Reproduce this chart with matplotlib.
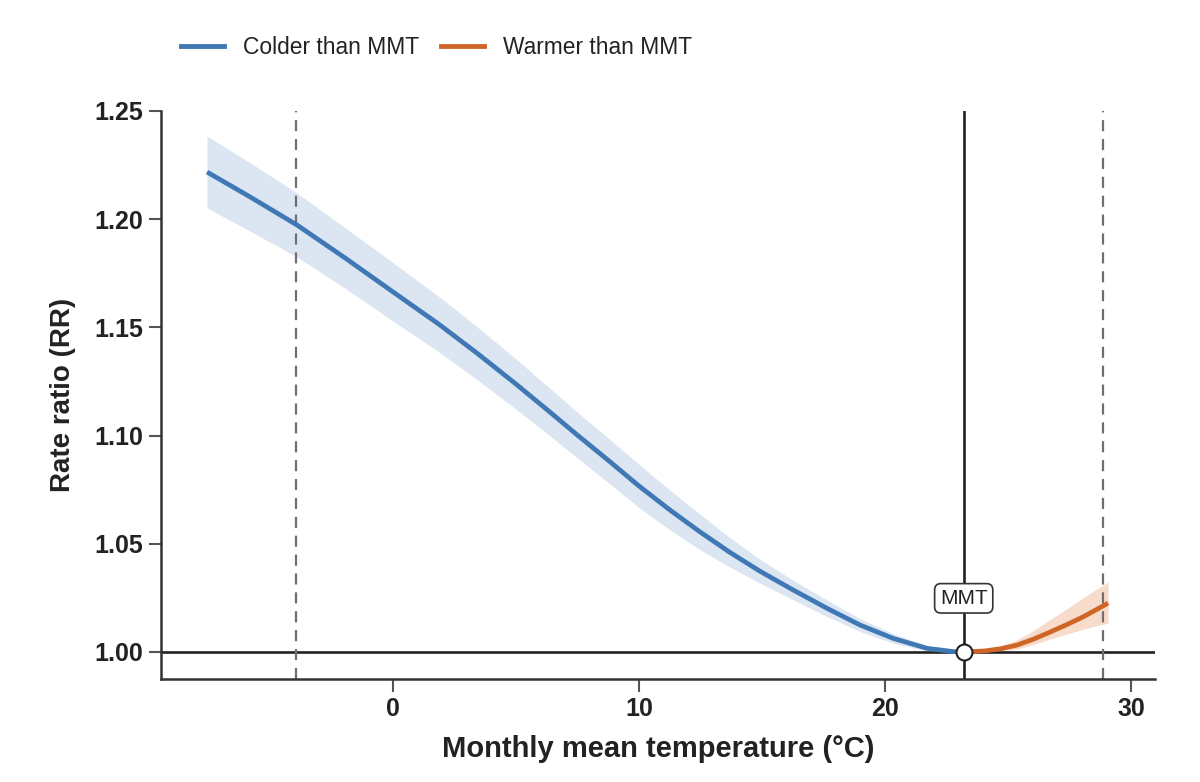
import matplotlib
matplotlib.use("Agg")
import matplotlib.pyplot as plt
from matplotlib.lines import Line2D

plt.rcParams['font.family'] = ['Liberation Sans', 'DejaVu Sans']

# ---- data ----
cold_temp = [-7.56, -5.81, -3.90, -1.95, 0.00, 1.91, 3.46, 5.00, 6.26, 7.52, 8.78,
             10.00, 11.26, 12.48, 13.70, 14.92, 16.26, 17.64, 18.98, 20.33, 21.71,
             22.76, 23.20]
cold_rr = [1.2218, 1.2103, 1.1973, 1.1821, 1.1664, 1.1511, 1.1377, 1.1238, 1.1120,
           1.1000, 1.0883, 1.0767, 1.0656, 1.0555, 1.0460, 1.0373, 1.0287, 1.0202,
           1.0125, 1.0063, 1.0017, 1.0002, 1.0000]
cold_lo = [1.2052, 1.1945, 1.1825, 1.1681, 1.1529, 1.1383, 1.1255, 1.1122, 1.1010,
           1.0894, 1.0780, 1.0667, 1.0564, 1.0473, 1.0392, 1.0318, 1.0242, 1.0164,
           1.0095, 1.0041, 1.0005, 1.0000, 1.0000]
cold_hi = [1.2384, 1.2261, 1.2121, 1.1961, 1.1799, 1.1639, 1.1499, 1.1354, 1.1230,
           1.1106, 1.0986, 1.0867, 1.0748, 1.0637, 1.0528, 1.0428, 1.0332, 1.0240,
           1.0155, 1.0085, 1.0029, 1.0005, 1.0000]

warm_temp = [23.20, 24.07, 24.70, 25.37, 26.05, 26.71, 27.40, 28.05, 28.55, 29.07]
warm_rr = [1.0000, 1.0005, 1.0015, 1.0032, 1.0060, 1.0092, 1.0127, 1.0162, 1.0193, 1.0226]
warm_lo = [1.0000, 1.0002, 1.0007, 1.0013, 1.0035, 1.0060, 1.0083, 1.0105, 1.0120, 1.0134]
warm_hi = [1.0000, 1.0010, 1.0028, 1.0056, 1.0100, 1.0150, 1.0200, 1.0250, 1.0287, 1.0323]

mmt = 23.2
pct_low = -3.95
pct_high = 28.85

x_ticks = [0, 10, 20, 30]
y_ticks = [1.00, 1.05, 1.10, 1.15, 1.20, 1.25]
y_tick_labels = ['1.00', '1.05', '1.10', '1.15', '1.20', '1.25']
series_names = ['Colder than MMT', 'Warmer than MMT']

blue = '#3f78b5'
blue_band = '#dce6f2'
orange = '#cf6628'
orange_band = '#f7dccb'
dark = '#222222'

fig = plt.figure(figsize=(12, 7.82), dpi=100)
ax = fig.add_axes([161/1200, 1-679/782, (1155-161)/1200, (679-111)/782])

ax.fill_between(cold_temp, cold_lo, cold_hi, color=blue_band, lw=0, zorder=1)
ax.fill_between(warm_temp, warm_lo, warm_hi, color=orange_band, lw=0, zorder=1)

ax.axhline(1.0, color=dark, lw=1.9, zorder=2)
ax.axvline(mmt, color=dark, lw=1.9, zorder=2)
for v in (pct_low, pct_high):
    ax.axvline(v, color='#6f6f6f', lw=1.6, ls=(0, (5, 3.5)), zorder=2)

ax.plot(cold_temp, cold_rr, color=blue, lw=3.4, solid_capstyle='butt',
        solid_joinstyle='round', zorder=3)
ax.plot(warm_temp, warm_rr, color=orange, lw=3.4, solid_capstyle='butt',
        solid_joinstyle='round', zorder=3)

ax.plot([mmt], [1.0], 'o', ms=11.5, mfc='white', mec=dark, mew=1.5, zorder=5)
ax.text(mmt, 1.0248, 'MMT', ha='center', va='center', fontsize=15, color=dark, zorder=6,
        bbox=dict(boxstyle='round,pad=0.25,rounding_size=0.3', fc='white', ec='#333333', lw=1.2))

ax.set_xlim(-9.431, 30.976)
ax.set_ylim(0.98752, 1.25)
ax.set_xticks(x_ticks)
ax.set_xticklabels([str(t) for t in x_ticks])
ax.set_yticks(y_ticks)
ax.set_yticklabels(y_tick_labels)

for s in ('top', 'right'):
    ax.spines[s].set_visible(False)
for s in ('left', 'bottom'):
    ax.spines[s].set_linewidth(1.8)
    ax.spines[s].set_color('#333333')

ax.tick_params(axis='both', direction='out', length=9, width=1.5, color='#555555',
               labelsize=18, labelcolor=dark, pad=4)
for lab in ax.get_xticklabels() + ax.get_yticklabels():
    lab.set_fontweight('bold')

ax.set_xlabel('Monthly mean temperature (°C)', fontsize=21, fontweight='bold', color=dark, labelpad=10)
ax.set_ylabel('Rate ratio (RR)', fontsize=20, fontweight='bold', color=dark, labelpad=13)

handles = [Line2D([0], [0], color=blue, lw=3.5), Line2D([0], [0], color=orange, lw=3.5)]
fig.legend(handles, series_names, loc='center left', bbox_to_anchor=(181/1200, 1-47/782),
           ncol=2, frameon=False, fontsize=16.4, handlelength=1.9, handletextpad=0.83,
           columnspacing=0.96, borderpad=0, borderaxespad=0, labelcolor=dark)

fig.savefig('out.png', dpi=100, facecolor='white')
